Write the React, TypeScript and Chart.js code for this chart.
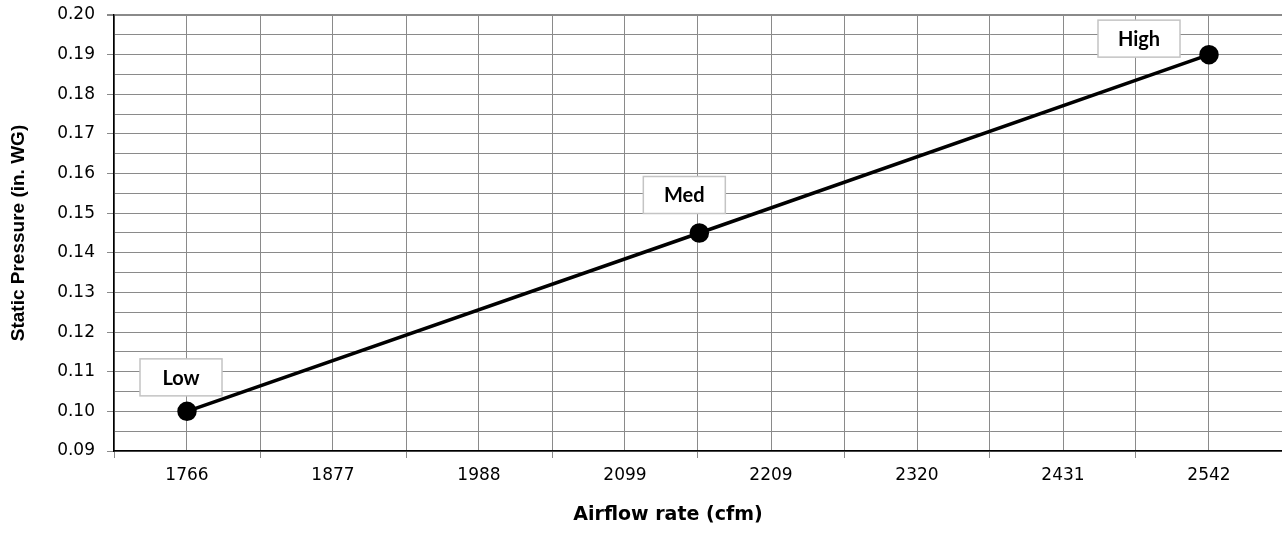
import React, { useEffect, useRef } from "react";
import { Chart, registerables } from "chart.js";

Chart.register(...registerables);

// ---- data ----
const pointNames: string[] = ["Low", "Med", "High"];
const airflowCfm: number[] = [1766, 2155, 2542];
const staticPressure: number[] = [0.1, 0.145, 0.19];
const xTickLabels: number[] = [1766, 1877, 1988, 2099, 2209, 2320, 2431, 2542];
const yTickLabels: number[] = [0.09, 0.1, 0.11, 0.12, 0.13, 0.14, 0.15, 0.16, 0.17, 0.18, 0.19, 0.2];
const xAxisTitle = "Airflow rate (cfm)";
const yAxisTitle = "Static Pressure (in. WG)";

// label box offsets relative to each point (px)
const labelOffsets: [number, number][] = [
  [-6, -34],
  [-15, -38],
  [-70, -16],
];

const xHalf = (xTickLabels[xTickLabels.length - 1] - xTickLabels[0]) / (xTickLabels.length - 1) / 2;
const xMin = xTickLabels[0] - xHalf;
const xMax = xTickLabels[xTickLabels.length - 1] + xHalf;
const yMin = yTickLabels[0];
const yMax = yTickLabels[yTickLabels.length - 1];
const yHalf = (yTickLabels[1] - yTickLabels[0]) / 2;

const FONT = "'Liberation Sans', Arial, sans-serif";
const TICK_FONT = "'DejaVu Sans', 'Liberation Sans', sans-serif";
const GRID = "#8a8a8a";

const labelPlugin = {
  id: "pointLabels",
  afterDatasetsDraw(chart: any) {
    const ctx = chart.ctx;
    const xs = chart.scales.x;
    const ys = chart.scales.y;
    ctx.save();
    pointNames.forEach((name, i) => {
      const px = xs.getPixelForValue(airflowCfm[i]);
      const py = ys.getPixelForValue(staticPressure[i]);
      const cx = px + labelOffsets[i][0];
      const cy = py + labelOffsets[i][1];
      const w = 82;
      const h = 37;
      ctx.fillStyle = "#ffffff";
      ctx.fillRect(cx - w / 2, cy - h / 2, w, h);
      ctx.strokeStyle = "#c4c4c4";
      ctx.lineWidth = 1.5;
      ctx.strokeRect(cx - w / 2, cy - h / 2, w, h);
      ctx.fillStyle = "#000000";
      ctx.font = "bold 20px Lato, 'Open Sans', sans-serif";
      ctx.textAlign = "center";
      ctx.textBaseline = "middle";
      ctx.fillText(name, cx, cy + 1);
    });
    ctx.restore();
  },
  afterDraw(chart: any) {
    const ctx = chart.ctx;
    const xs = chart.scales.x;
    ctx.save();
    ctx.fillStyle = "#000000";
    ctx.font = "bold 19px 'DejaVu Sans', sans-serif";
    ctx.textAlign = "center";
    ctx.textBaseline = "middle";
    ctx.fillText(xAxisTitle, (xs.left + xs.right) / 2 - 30, xs.bottom - 20);
    ctx.restore();
  },
};

export default function App() {
  const canvasRef = useRef<HTMLCanvasElement | null>(null);

  useEffect(() => {
    document.body.style.margin = "0";
    const canvas = canvasRef.current;
    if (!canvas) return;
    const chart = new Chart(canvas, {
      type: "scatter",
      data: {
        datasets: [
          {
            label: "Static Pressure",
            data: airflowCfm.map((x, i) => ({ x, y: staticPressure[i] })),
            showLine: true,
            borderColor: "#000000",
            backgroundColor: "#000000",
            borderWidth: 3.5,
            pointRadius: 8,
            pointHoverRadius: 8,
            pointBackgroundColor: "#000000",
            pointBorderColor: "#000000",
            clip: false,
          },
        ],
      },
      options: {
        responsive: false,
        animation: false,
        events: [],
        layout: { autoPadding: false, padding: { top: 15, right: 0, left: 0, bottom: 0 } },
        plugins: {
          legend: { display: false },
          tooltip: { enabled: false },
        },
        scales: {
          x: {
            type: "linear",
            min: xMin,
            max: xMax,
            afterBuildTicks: (scale: any) => {
              const t = [];
              for (let k = 0; k <= xTickLabels.length * 2; k++) {
                t.push({ value: xMin + k * xHalf });
              }
              scale.ticks = t;
            },
            afterFit: (scale: any) => {
              scale.height = 84;
              scale.paddingLeft = 0;
              scale.paddingRight = 0;
            },
            ticks: {
              autoSkip: false,
              maxRotation: 0,
              minRotation: 0,
              padding: 7,
              color: "#000000",
              font: { family: TICK_FONT, size: 17 },
              callback: (_v: any, index: number) =>
                index % 2 === 1 ? String(xTickLabels[(index - 1) / 2]) : "",
            },
            grid: {
              color: GRID,
              lineWidth: 1,
              tickLength: 7,
              tickColor: (c: any) => (c.index % 2 === 0 ? GRID : "rgba(0,0,0,0)"),
            },
            border: { display: true, color: "#000000", width: 1.5 },
            title: { display: false, text: xAxisTitle },
          },
          y: {
            type: "linear",
            min: yMin,
            max: yMax,
            afterBuildTicks: (scale: any) => {
              const t = [];
              for (let k = 0; k <= (yTickLabels.length - 1) * 2; k++) {
                t.push({ value: yMin + k * yHalf });
              }
              scale.ticks = t;
            },
            afterFit: (scale: any) => {
              scale.width = 114;
              scale.paddingTop = 0;
              scale.paddingBottom = 0;
            },
            ticks: {
              autoSkip: false,
              padding: 12,
              color: "#000000",
              font: { family: TICK_FONT, size: 17 },
              callback: (_v: any, index: number) =>
                index % 2 === 0 ? yTickLabels[index / 2].toFixed(2) : "",
            },
            grid: {
              color: GRID,
              lineWidth: (c: any) => (c.index === (yTickLabels.length - 1) * 2 ? 2 : 1),
              tickLength: 7,
              tickColor: (c: any) => (c.index % 2 === 0 ? GRID : "rgba(0,0,0,0)"),
            },
            border: { display: true, color: "#000000", width: 1.5 },
            title: {
              display: true,
              text: yAxisTitle,
              color: "#000000",
              font: { family: FONT, size: 19, weight: "bold" },
              padding: { top: 7, bottom: 0 },
            },
          },
        },
      },
      plugins: [labelPlugin],
    });
    return () => chart.destroy();
  }, []);

  return (
    <div style={{ position: "absolute", left: 0, top: 0, width: 1282, height: 535 }}>
      <canvas ref={canvasRef} width={1282} height={535} style={{ display: "block" }} />
    </div>
  );
}
